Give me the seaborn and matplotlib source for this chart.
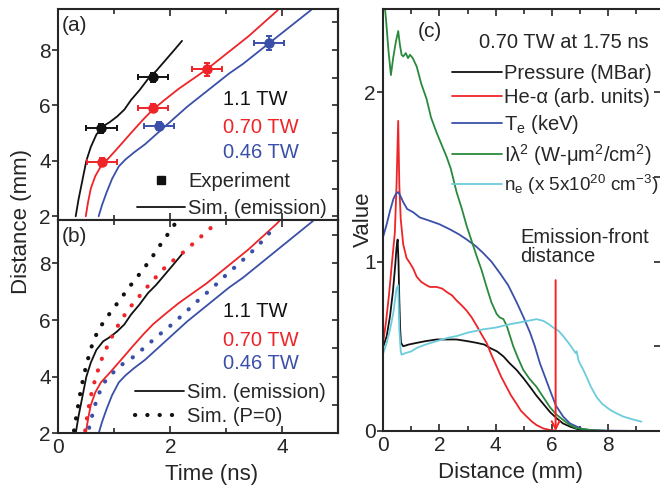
import numpy as np
import matplotlib
matplotlib.use("Agg")
import matplotlib.pyplot as plt
from matplotlib.lines import Line2D
from matplotlib.ticker import MultipleLocator
import seaborn as sns

sns.set_style("ticks")
plt.rcParams["font.family"] = ["Liberation Sans", "DejaVu Sans"]
plt.rcParams["mathtext.fontset"] = "custom"
plt.rcParams["mathtext.rm"] = "Liberation Sans"
plt.rcParams["mathtext.it"] = "Liberation Sans:italic"

BLACK = "#111111"
RED = "#EE2428"
BLUE = "#3A50A8"
GREEN = "#2A8A3C"
CYAN = "#6CCCDC"

powers = ["1.1 TW", "0.70 TW", "0.46 TW"]
power_colors = [BLACK, RED, BLUE]

# experiment: front position (mm) vs time (ns)
exp_t_11 = [0.77, 1.69]
exp_d_11 = [5.17, 7.01]
exp_yerr_11 = [0.15, 0.15]
exp_t_070 = [0.78, 1.69, 2.66]
exp_d_070 = [3.95, 5.90, 7.30]
exp_yerr_070 = [0.15, 0.15, 0.22]
exp_t_046 = [1.80, 3.76]
exp_d_046 = [5.25, 8.24]
exp_yerr_046 = [0.15, 0.25]
exp_terr = 0.27

# simulation (emission)
sim_t_11 = [0.31, 0.36, 0.42, 0.50, 0.58, 0.68, 0.80, 0.92, 1.05, 1.18, 1.30, 1.45, 1.60, 1.75, 1.90, 2.05, 2.21]
sim_d_11 = [2.0, 2.6, 3.2, 4.0, 4.5, 4.95, 5.25, 5.4, 5.6, 5.85, 6.2, 6.55, 6.95, 7.25, 7.6, 7.95, 8.33]
sim_t_070 = [0.49, 0.53, 0.58, 0.66, 0.76, 0.90, 1.10, 1.34, 1.52, 1.69, 1.90, 2.15, 2.40, 2.65, 2.90, 3.15, 3.40, 3.65, 3.90, 3.97]
sim_d_070 = [2.0, 2.5, 3.0, 3.45, 3.8, 4.1, 4.55, 5.1, 5.5, 5.85, 6.2, 6.6, 6.95, 7.3, 7.7, 8.1, 8.5, 8.95, 9.4, 9.55]
sim_t_046 = [0.72, 0.78, 0.86, 0.96, 1.08, 1.20, 1.35, 1.55, 1.80, 2.05, 2.30, 2.55, 2.80, 3.05, 3.30, 3.55, 3.80, 4.05, 4.30, 4.55]
sim_d_046 = [2.0, 2.4, 2.85, 3.35, 3.8, 4.05, 4.3, 4.6, 5.05, 5.5, 5.95, 6.35, 6.75, 7.15, 7.5, 7.9, 8.3, 8.7, 9.1, 9.5]

# simulation (P=0)
p0_t_11 = [0.28, 0.33, 0.38, 0.44, 0.51, 0.60, 0.70, 0.83, 0.98, 1.13, 1.30, 1.48, 1.65, 1.82, 1.98, 2.12]
p0_d_11 = [2.1, 2.7, 3.3, 3.9, 4.5, 5.1, 5.6, 6.0, 6.4, 6.8, 7.25, 7.7, 8.15, 8.65, 9.1, 9.5]
p0_t_070 = [0.48, 0.53, 0.59, 0.67, 0.77, 0.88, 0.98, 1.12, 1.28, 1.45, 1.60, 1.78, 1.95, 2.15, 2.35, 2.55, 2.75]
p0_d_070 = [2.1, 2.8, 3.4, 4.0, 4.6, 5.1, 5.5, 6.0, 6.45, 6.85, 7.2, 7.6, 7.95, 8.25, 8.6, 8.95, 9.3]
p0_t_046 = [0.55, 0.62, 0.70, 0.82, 0.98, 1.15, 1.34, 1.55, 1.75, 2.00, 2.23, 2.50, 2.76, 3.00, 3.23, 3.45, 3.65, 3.87]
p0_d_046 = [2.2, 2.75, 3.3, 3.8, 4.15, 4.45, 4.7, 5.05, 5.4, 5.8, 6.2, 6.7, 7.15, 7.6, 8.0, 8.4, 8.8, 9.3]

# panel (c): profiles vs distance, 0.70 TW at 1.75 ns
pres_x = [0, 0.12, 0.24, 0.34, 0.42, 0.47, 0.51, 0.54, 0.57, 0.60, 0.63, 0.71, 0.9, 1.19, 1.5, 1.9, 2.3, 2.61, 3.0,
          3.33, 3.6, 3.8, 4.05, 4.28, 4.5, 4.75, 5.0, 5.23, 5.45, 5.7, 5.95, 6.18, 6.4, 6.65, 6.9, 7.13, 7.5]
pres_y = [0.50, 0.56, 0.68, 0.82, 0.97, 1.08, 1.13, 1.0, 0.77, 0.6, 0.52, 0.50, 0.51, 0.52, 0.53, 0.54, 0.54, 0.54,
          0.53, 0.52, 0.51, 0.49, 0.47, 0.44, 0.40, 0.36, 0.31, 0.26, 0.21, 0.16, 0.11, 0.075, 0.045, 0.026, 0.012,
          0.006, 0.0]
hea_x = [0, 0.1, 0.2, 0.3, 0.41, 0.47, 0.53, 0.57, 0.62, 0.71, 0.83, 0.95, 1.06, 1.19, 1.35, 1.54, 1.66, 1.9, 2.1,
         2.26, 2.45, 2.61, 2.8, 2.97, 3.15, 3.33, 3.5, 3.68, 3.85, 4.04, 4.2, 4.39, 4.55, 4.75, 4.9, 5.11, 5.3, 5.46,
         5.7, 5.94, 6.2, 7.0]
hea_y = [0.53, 0.65, 0.8, 0.98, 1.17, 1.45, 1.83, 1.45, 1.25, 1.1, 1.02, 0.99, 0.96, 0.91, 0.88, 0.86, 0.85, 0.85,
         0.84, 0.82, 0.80, 0.77, 0.74, 0.71, 0.67, 0.62, 0.57, 0.52, 0.45, 0.38, 0.32, 0.26, 0.21, 0.16, 0.12, 0.085,
         0.055, 0.035, 0.015, 0.006, 0.0, 0.0]
te_x = [0, 0.12, 0.24, 0.36, 0.45, 0.53, 0.6, 0.71, 0.85, 1.07, 1.3, 1.66, 2.0, 2.37, 2.7, 2.97, 3.3, 3.56, 3.85, 4.16,
        4.45, 4.75, 5.0, 5.23, 5.4, 5.58, 5.76, 5.94, 6.15, 6.41, 6.65, 6.89, 7.1, 7.36, 8.0, 9.2]
te_y = [1.15, 1.22, 1.3, 1.37, 1.4, 1.41, 1.39, 1.35, 1.31, 1.29, 1.26, 1.24, 1.22, 1.19, 1.16, 1.13, 1.09, 1.05, 1.0,
        0.93, 0.86, 0.76, 0.67, 0.58, 0.5, 0.40, 0.32, 0.24, 0.15, 0.085, 0.045, 0.026, 0.012, 0.006, 0.002, 0.0]
il2_x = [0, 0.1, 0.18, 0.27, 0.35, 0.45, 0.53, 0.59, 0.65, 0.71, 0.8, 0.88, 0.95, 1.05, 1.19, 1.35, 1.54, 1.7, 1.9,
         2.05, 2.25, 2.4, 2.61, 2.8, 2.97, 3.15, 3.33, 3.5, 3.68, 3.85, 4.04, 4.15, 4.28, 4.4, 4.63, 4.8, 4.99, 5.2,
         5.46, 5.7, 5.94, 6.15, 6.41, 6.65, 6.89, 7.36, 8.0]
il2_y = [2.6, 2.42, 2.25, 2.10, 2.2, 2.3, 2.36, 2.28, 2.22, 2.21, 2.23, 2.2, 2.22, 2.2, 2.15, 2.05, 1.96, 1.85, 1.76,
         1.70, 1.62, 1.55, 1.41, 1.31, 1.21, 1.12, 1.03, 0.95, 0.85, 0.76, 0.69, 0.67, 0.66, 0.62, 0.50, 0.43, 0.36,
         0.31, 0.26, 0.20, 0.14, 0.10, 0.065, 0.035, 0.016, 0.006, 0.0]
ne_x = [0, 0.12, 0.24, 0.36, 0.47, 0.53, 0.57, 0.62, 0.65, 0.8, 1.0, 1.19, 1.5, 1.9, 2.3, 2.61, 3.0, 3.56, 4.0, 4.51,
        5.0, 5.46, 5.7, 5.9, 6.06, 6.25, 6.41, 6.6, 6.77, 6.85, 6.89, 6.95, 7.0, 7.1, 7.24, 7.4, 7.6, 7.8, 8.08, 8.3,
        8.55, 8.9, 9.2]
ne_y = [0.46, 0.52, 0.6, 0.70, 0.84, 0.86, 0.60, 0.47, 0.45, 0.46, 0.47, 0.49, 0.51, 0.53, 0.55, 0.56, 0.58, 0.60,
        0.61, 0.63, 0.645, 0.66, 0.65, 0.63, 0.61, 0.59, 0.56, 0.52, 0.48, 0.46, 0.47, 0.42, 0.40, 0.37, 0.32, 0.26,
        0.20, 0.16, 0.125, 0.105, 0.085, 0.068, 0.055]
front_x = 6.14

FS = 14.5
DOTS = (0, (0.05, 2.9))

fig = plt.figure(figsize=(6.6, 4.87), dpi=100)
ax_a = fig.add_axes([0.0884, 0.548, 0.4240, 0.4335])
ax_b = fig.add_axes([0.0884, 0.110, 0.4240, 0.4380])
ax_c = fig.add_axes([0.5808, 0.115, 0.4192, 0.8665])


def style_axes(ax, xmaj, xmin, ymaj, ymin):
    for s in ax.spines.values():
        s.set_linewidth(1.5)
    ax.xaxis.set_major_locator(MultipleLocator(xmaj))
    ax.xaxis.set_minor_locator(MultipleLocator(xmin))
    ax.yaxis.set_major_locator(MultipleLocator(ymaj))
    ax.tick_params(axis="x", which="both", direction="in", top=True, bottom=True, width=1.2, pad=3.5,
                   labelsize=FS + 0.5)
    ax.tick_params(axis="x", which="major", length=5)
    ax.tick_params(axis="x", which="minor", length=3.5)
    ax.tick_params(axis="y", which="both", direction="out", right=False, width=1.2, length=4, pad=1.5,
                   labelsize=FS + 0.5)
    sec = ax.secondary_yaxis("right")
    sec.yaxis.set_major_locator(MultipleLocator(ymin))
    sec.tick_params(direction="in", length=4, width=1.2, labelright=False)
    sec.spines["right"].set_linewidth(1.5)
    return sec


sims = [(sim_t_11, sim_d_11), (sim_t_070, sim_d_070), (sim_t_046, sim_d_046)]
p0s = [(p0_t_11, p0_d_11), (p0_t_070, p0_d_070), (p0_t_046, p0_d_046)]
exps = [(exp_t_11, exp_d_11, exp_yerr_11), (exp_t_070, exp_d_070, exp_yerr_070),
        (exp_t_046, exp_d_046, exp_yerr_046)]

# (a)
for (t, d), c in zip(sims, power_colors):
    sns.lineplot(x=t, y=d, ax=ax_a, color=c, lw=1.3, sort=False, estimator=None)
for (t, d, ye), c in zip(exps, power_colors):
    ax_a.errorbar(t, d, xerr=exp_terr, yerr=ye, fmt="o", color=c, ms=6.5, capsize=2.5,
                  elinewidth=1.4, capthick=1.4)
ax_a.set_xlim(0, 5)
ax_a.set_ylim(1.86, 9.48)
style_axes(ax_a, 2, 1, 2, 1)
ax_a.tick_params(axis="x", labelbottom=False)
ax_a.text(0.013, 0.924, "(a)", transform=ax_a.transAxes, fontsize=FS + 0.5, va="center")
for lab, c, yy in zip(powers, power_colors, [0.569, 0.441, 0.322]):
    ax_a.text(0.588, yy, lab, color=c, fontsize=FS, transform=ax_a.transAxes, va="center")
h_a = [Line2D([], [], color=BLACK, marker="s", ls="none", ms=6),
       Line2D([], [], color=BLACK, lw=1.3)]
ax_a.legend(h_a, ["Experiment", "Sim. (emission)"], loc="center left", bbox_to_anchor=(0.281, 0.120),
            frameon=False, fontsize=FS, handlelength=2.4, handletextpad=0.15, labelspacing=0.4,
            borderpad=0, borderaxespad=0)

# (b)
for (t, d), c in zip(sims, power_colors):
    sns.lineplot(x=t, y=d, ax=ax_b, color=c, lw=1.3, sort=False, estimator=None)
for (t, d), c in zip(p0s, power_colors):
    sns.lineplot(x=t, y=d, ax=ax_b, color=c, lw=3.0, linestyle=DOTS, dash_capstyle="round",
                 sort=False, estimator=None)
ax_b.set_xlim(0, 5)
ax_b.set_ylim(2.0, 9.53)
style_axes(ax_b, 2, 1, 2, 1)
ax_b.text(0.013, 0.922, "(b)", transform=ax_b.transAxes, fontsize=FS + 0.5, va="center")
for lab, c, yy in zip(powers, power_colors, [0.570, 0.437, 0.330]):
    ax_b.text(0.588, yy, lab, color=c, fontsize=FS, transform=ax_b.transAxes, va="center")
h_b = [Line2D([], [], color=BLACK, lw=1.3),
       Line2D([], [], color=BLACK, lw=3.0, ls=DOTS, dash_capstyle="round")]
ax_b.legend(h_b, ["Sim. (emission)", "Sim. (P=0)"], loc="center left", bbox_to_anchor=(0.275, 0.136),
            frameon=False, fontsize=FS, handlelength=2.4, handletextpad=0.15, labelspacing=0.25,
            borderpad=0, borderaxespad=0)

fig.text(0.032, 0.546, "Distance (mm)", rotation=90, ha="center", va="center", fontsize=16)
fig.text(0.321, 0.025, "Time (ns)", ha="center", va="center", fontsize=16)

# (c)
profiles = [
    (pres_x, pres_y, BLACK, "Pressure (MBar)"),
    (hea_x, hea_y, RED, "He-α (arb. units)"),
    (te_x, te_y, BLUE, r"T$_\mathrm{e}$ (keV)"),
    (il2_x, il2_y, GREEN, r"Iλ$^\mathrm{2}$ (W-μm$^\mathrm{2}$/cm$^\mathrm{2}$)"),
    (ne_x, ne_y, CYAN, r"n$_\mathrm{e}$ (x 5x10$^\mathrm{20}$ cm$^\mathrm{-3}$)"),
]
for x, y, c, lab in profiles:
    sns.lineplot(x=x, y=y, ax=ax_c, color=c, lw=1.3, sort=False, estimator=None, label=lab)
ax_c.set_xlim(0, 9.86)
ax_c.set_ylim(0, 2.49)
sec_c = style_axes(ax_c, 2, 1, 1, 0.5)
ax_c.spines["right"].set_visible(False)
sec_c.spines["right"].set_visible(False)
ax_c.text(0.126, 0.946, "(c)", transform=ax_c.transAxes, fontsize=FS + 0.5, va="center")
ax_c.text(0.345, 0.921, "0.70 TW at 1.75 ns", transform=ax_c.transAxes, fontsize=FS, va="center")
leg_c = ax_c.legend(loc="center left", bbox_to_anchor=(0.248, 0.712), frameon=False, fontsize=FS,
                    handlelength=2.5, handletextpad=0.1, labelspacing=0.28, borderpad=0, borderaxespad=0)
leg_c.get_texts()[-1].set_fontsize(13.6)
ax_c.text(4.87, 1.085, "Emission-front\ndistance", fontsize=FS, va="center", linespacing=1.05)
ax_c.annotate("", xy=(front_x, 0.0), xytext=(front_x, 0.89),
              arrowprops=dict(arrowstyle="->,head_length=0.55,head_width=0.28", color="#FF2020", lw=1.4,
                              shrinkA=0, shrinkB=0))
ax_c.set_xlabel("")
ax_c.set_ylabel("")
fig.text(0.774, 0.029, "Distance (mm)", ha="center", va="center", fontsize=16)
fig.text(0.550, 0.549, "Value", rotation=90, ha="center", va="center", fontsize=16)

fig.savefig("out.png", dpi=100)
